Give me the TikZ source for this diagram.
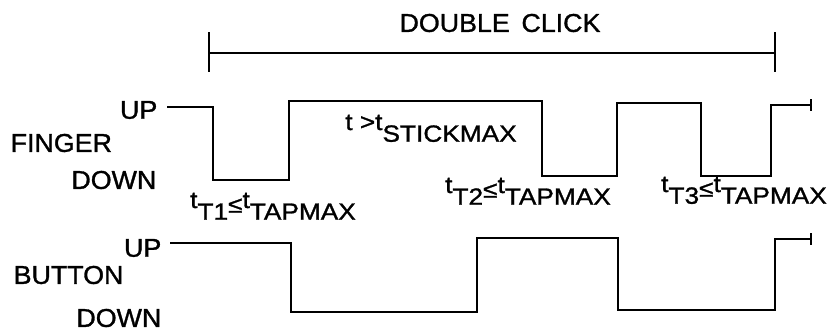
\documentclass[tikz,border=0pt]{standalone}
\usepackage{fontspec}
\setmainfont{Liberation Sans}
\newfontfamily\labelsans[FakeBold=1.2, FakeStretch=1.04]{Liberation Sans}
\newfontfamily\widesans[FakeBold=1.2, FakeStretch=1.12]{Liberation Sans}
\newcommand{\lowsub}[1]{\raisebox{-10pt}{#1}}
\newcommand{\lowle}{\raisebox{-4pt}{≤}}

\begin{document}
\begin{tikzpicture}[x=0.03cm, y=-0.03cm, line width=1.2pt,
		lvl/.style={inner sep=0pt, font=\labelsans\fontsize{22}{26}\selectfont},
		tlbl/.style={inner sep=0pt, anchor=base, font=\widesans\fontsize{20}{24}\selectfont}]
	\useasboundingbox (0,0) rectangle (833,334);
	
	%double click span
	\draw (209,53) -- (775,53);
	\foreach \x in {209, 775}{
		\draw (\x,32) -- (\x,72);
	}
	\node[lvl] (dclick) at (500,23){DOUBLE\hspace{10pt}CLICK};
	
	%finger signal
	\node[lvl, anchor=east] (fup) at (158,110){UP};
	\node[lvl, anchor=west] (finger) at (10,143){FINGER};
	\node[lvl, anchor=east] (fdown) at (157,180){DOWN};
	\draw (167,107) -- (213,107) -- (213,180) -- (289,180) -- (289,101) -- (542,101) -- (542,176) -- (617,176) -- (617,103) -- (701,103) -- (701,176) -- (771,176) -- (771,105) -- (811,105);
	\draw (811,99) -- (811,111);
	
	%button signal
	\node[lvl, anchor=east] (bup) at (162,248){UP};
	\node[lvl, anchor=west] (button) at (13,275){BUTTON};
	\node[lvl, anchor=east] (bdown) at (162,318){DOWN};
	\draw (170,243) -- (291,243) -- (291,312) -- (477,312) -- (477,238) -- (618,238) -- (618,310) -- (775,310) -- (775,239) -- (811,239);
	\draw (811,233) -- (811,245);
	
	%timing labels
	\node[tlbl] (tstick) at (431,130){t >t\lowsub{STICKMAX}};
	\node[tlbl] (tt1) at (273,208){t\lowsub{T1}\lowle t\lowsub{TAPMAX}};
	\node[tlbl] (tt2) at (528,193){t\lowsub{T2}\lowle t\lowsub{TAPMAX}};
	\node[tlbl] (tt3) at (744,192){t\lowsub{T3}\lowle t\lowsub{TAPMAX}};
\end{tikzpicture}
\end{document}
